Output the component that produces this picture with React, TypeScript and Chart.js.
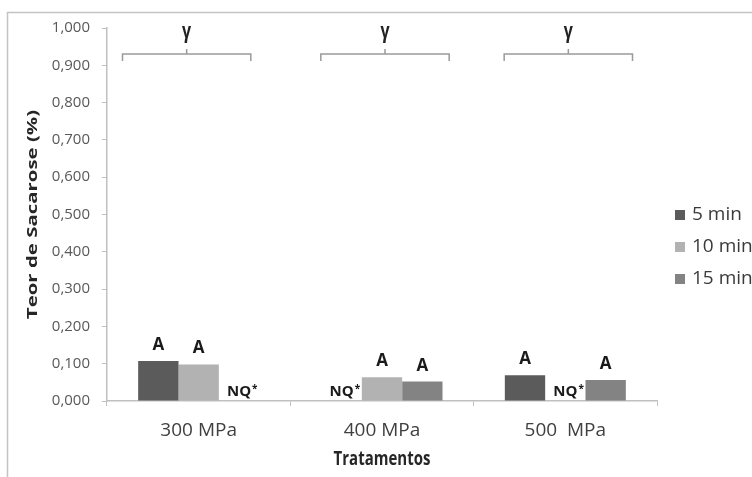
import React, { useEffect, useRef } from "react";
import { Chart, registerables } from "chart.js";

Chart.register(...registerables);

const categories = ["300 MPa", "400 MPa", "500  MPa"];
const seriesNames = ["5 min", "10 min", "15 min"];
const fiveMin = [0.107, null, 0.069];
const tenMin = [0.098, 0.064, null];
const fifteenMin = [null, 0.052, 0.056];
const fiveMinLetters = ["A", "NQ", "A"];
const tenMinLetters = ["A", "A", "NQ"];
const fifteenMinLetters = ["NQ", "A", "A"];
const groupLetters = ["γ", "γ", "γ"];
const bracketLevel = 0.93;
const yMin = 0;
const yMax = 1;
const yStep = 0.1;
const yTitle = "Teor de Sacarose (%)";
const xTitle = "Tratamentos";
const colors = ["#5b5b5b", "#b2b2b2", "#838383"];

const FONT = "'Open Sans', sans-serif";

const framePlugin = {
  id: "frame",
  beforeDraw(chart: any) {
    const ctx = chart.ctx;
    ctx.save();
    ctx.fillStyle = "#fff";
    ctx.fillRect(0, 0, chart.width, chart.height);
    ctx.strokeStyle = "#c4c4c4";
    ctx.lineWidth = 1.5;
    ctx.beginPath();
    ctx.moveTo(7.5, chart.height);
    ctx.lineTo(7.5, 12.5);
    ctx.lineTo(chart.width, 12.5);
    ctx.stroke();
    ctx.restore();
  },
};

const annotPlugin = {
  id: "annot",
  afterDatasetsDraw(chart: any) {
    const ctx = chart.ctx;
    const xs = chart.scales.x;
    const ys = chart.scales.y;
    const zeroY = ys.getPixelForValue(0);
    const letters = [fiveMinLetters, tenMinLetters, fifteenMinLetters];
    ctx.save();
    chart.data.datasets.forEach((ds: any, di: number) => {
      const meta = chart.getDatasetMeta(di);
      meta.data.forEach((el: any, i: number) => {
        const v = ds.data[i];
        const x = el.x;
        const lab = letters[di][i];
        ctx.fillStyle = "#1a1a1a";
        ctx.textAlign = "center";
        ctx.textBaseline = "alphabetic";
        if (v === null || v === undefined) {
          ctx.font = "bold 15px " + FONT;
          const w = ctx.measureText(lab).width;
          ctx.fillText(lab, x, zeroY - 5);
          ctx.font = "bold 10px " + FONT;
          ctx.textAlign = "left";
          ctx.fillText("*", x + w / 2 + 1, zeroY - 9);
        } else {
          ctx.font = "bold 17px " + FONT;
          ctx.fillText(lab, x, ys.getPixelForValue(v) - 11);
        }
      });
    });
    // brackets
    const catW = (xs.right - xs.left) / categories.length;
    const by = ys.getPixelForValue(bracketLevel);
    const shift = [-12, 3, 3];
    categories.forEach((c, i) => {
      const cx = xs.getPixelForValue(i) + shift[i];
      const half = catW * 0.35;
      ctx.strokeStyle = "#9a9a9a";
      ctx.lineWidth = 1.5;
      ctx.beginPath();
      ctx.moveTo(cx - half, by + 7);
      ctx.lineTo(cx - half, by);
      ctx.lineTo(cx + half, by);
      ctx.lineTo(cx + half, by + 7);
      ctx.moveTo(cx, by);
      ctx.lineTo(cx, by - 5);
      ctx.stroke();
      ctx.save();
      ctx.fillStyle = "#222";
      ctx.font = "bold 16px " + FONT;
      ctx.textAlign = "center";
      ctx.textBaseline = "alphabetic";
      ctx.translate(cx, by - 16);
      ctx.scale(1, 1.3);
      ctx.fillText(groupLetters[i], 0, 0);
      ctx.restore();
    });
    // y title (stretched along its length like the reference)
    ctx.save();
    ctx.translate(32.5, (ys.top + ys.bottom) / 2);
    ctx.rotate(-Math.PI / 2);
    ctx.scale(1.36, 1);
    ctx.fillStyle = "#262626";
    ctx.font = "bold 15px " + FONT;
    ctx.textAlign = "center";
    ctx.textBaseline = "middle";
    ctx.fillText(yTitle, 0, 0);
    ctx.restore();
    // x title (stretched vertically like the reference)
    ctx.save();
    ctx.translate((xs.left + xs.right) / 2, 459);
    ctx.scale(1, 1.3);
    ctx.fillStyle = "#262626";
    ctx.font = "bold 15px " + FONT;
    ctx.textAlign = "center";
    ctx.textBaseline = "middle";
    ctx.fillText(xTitle, 0, 0);
    ctx.restore();
    // legend
    const lx = 675;
    const ly0 = 215;
    chart.data.datasets.forEach((ds: any, di: number) => {
      const y = ly0 + di * 32;
      ctx.fillStyle = ds.backgroundColor;
      ctx.fillRect(lx, y - 5, 10, 10);
      ctx.fillStyle = "#3a3a3a";
      ctx.font = "19px " + FONT;
      ctx.textAlign = "left";
      ctx.textBaseline = "middle";
      ctx.fillText(ds.label, lx + 17, y);
    });
    ctx.restore();
  },
};

export default function App() {
  const ref = useRef<HTMLCanvasElement | null>(null);
  useEffect(() => {
    if (!ref.current) return;
    const chart = new Chart(ref.current, {
      type: "bar",
      data: {
        labels: categories,
        datasets: [fiveMin, tenMin, fifteenMin].map((d, i) => ({
          label: seriesNames[i],
          data: d,
          backgroundColor: colors[i],
          borderWidth: 0,
          categoryPercentage: 0.66,
          barPercentage: 1,
        })),
      },
      options: {
        responsive: false,
        animation: false,
        devicePixelRatio: 1,
        layout: { padding: { left: 0, right: 95, top: 28, bottom: 0 } },
        plugins: { legend: { display: false }, tooltip: { enabled: false } },
        scales: {
          x: {
            afterFit: (s: any) => {
              s.height = 76;
            },
            grid: {
              display: true,
              drawOnChartArea: false,
              drawTicks: true,
              tickLength: 5,
              color: "#c0c0c0",
              offset: true,
            },
            border: { color: "#c0c0c0", width: 1.5 },
            ticks: {
              color: "#404040",
              font: { family: FONT, size: 19 },
              padding: 13,
            },
            title: { display: false },
          },
          y: {
            min: yMin,
            max: yMax,
            afterFit: (s: any) => {
              s.width = 107;
            },
            grid: {
              display: true,
              drawOnChartArea: false,
              drawTicks: true,
              tickLength: 5,
              color: "#c0c0c0",
            },
            border: { color: "#c0c0c0", width: 1.5 },
            ticks: {
              stepSize: yStep,
              color: "#595959",
              font: { family: FONT, size: 15 },
              padding: 12,
              callback: (v: any) => Number(v).toFixed(3).replace(".", ","),
            },
            title: { display: false },
          },
        },
      },
      plugins: [framePlugin, annotPlugin],
    } as any);
    return () => chart.destroy();
  }, []);
  return (
    <canvas
      ref={ref}
      width={752}
      height={477}
      style={{ position: "absolute", left: 0, top: 0, width: 752, height: 477, background: "#fff" }}
    />
  );
}
